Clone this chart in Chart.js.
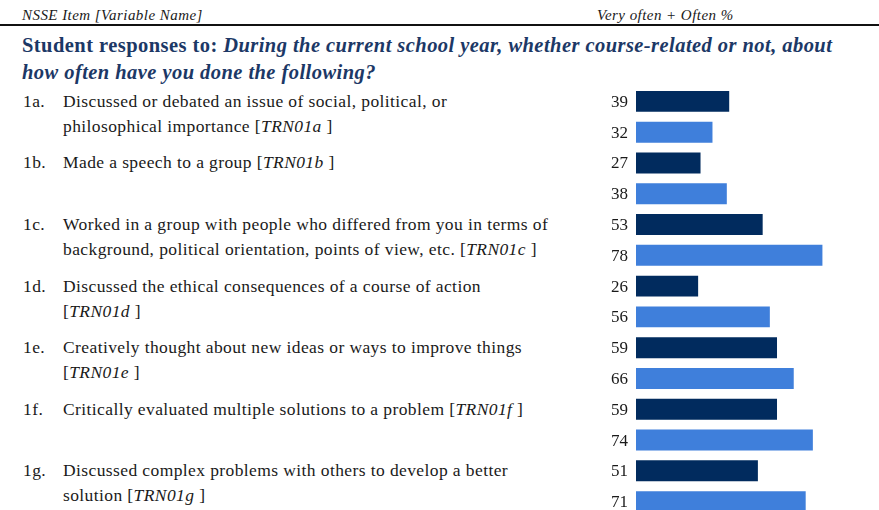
<!DOCTYPE html>
<html>
<head>
<meta charset="utf-8">
<script src="https://cdn.jsdelivr.net/npm/chart.js@4.4.1/dist/chart.umd.min.js"></script>
<style>
  html, body { margin: 0; padding: 0; background: #fff; overflow: hidden; }
  body { width: 879px; height: 510px; position: relative; font-family: 'Liberation Serif', 'Times New Roman', serif; color: #1a1a1a; }
  .hdr { position: absolute; top: 6px; font-size: 15px; font-style: italic; line-height: 18px; letter-spacing: 0.45px; }
  .rule { position: absolute; left: 0; top: 24px; width: 879px; height: 2px; background: #111; }
  .title { position: absolute; left: 22px; top: 32px; font-size: 20.5px; font-weight: bold; line-height: 27px; color: #1c3866; letter-spacing: 0.44px; }
  .item { position: absolute; font-size: 17.5px; line-height: 25px; letter-spacing: 0.4px; }
  .item .code { position: absolute; left: 23px; }
  .item .desc { position: absolute; left: 63px; white-space: nowrap; }
  #wrap { position: absolute; left: 590px; top: 86px; width: 289px; height: 431px; }
</style>
</head>
<body>
<div class="hdr" style="left:22px">NSSE Item [Variable Name]</div>
<div class="hdr" style="left:597px">Very often + Often %</div>
<div class="rule"></div>
<div class="title">Student responses to: <i>During the current school year, whether course-related or not, about<br>how often have you done the following?</i></div>
<div id="items"></div>
<div id="wrap"><canvas id="chart"></canvas></div>
<script>
const itemCodes = ['1a.', '1b.', '1c.', '1d.', '1e.', '1f.', '1g.'];
const itemLines = [
  ['Discussed or debated an issue of social, political, or', 'philosophical importance [<i>TRN01a</i> ]'],
  ['Made a speech to a group [<i>TRN01b</i> ]'],
  ['Worked in a group with people who differed from you in terms of', 'background, political orientation, points of view, etc. [<i>TRN01c</i> ]'],
  ['Discussed the ethical consequences of a course of action', '[<i>TRN01d</i> ]'],
  ['Creatively thought about new ideas or ways to improve things', '[<i>TRN01e</i> ]'],
  ['Critically evaluated multiple solutions to a problem [<i>TRN01f</i> ]'],
  ['Discussed complex problems with others to develop a better', 'solution [<i>TRN01g</i> ]']
];
const darkValues = [39, 27, 53, 26, 59, 59, 51];
const lightValues = [32, 38, 78, 56, 66, 74, 71];

const DARK = '#012b5e';
const LIGHT = '#3f7fdb';

// numbers to the left of each bar
const valueLabels = {
  id: 'valueLabels',
  afterDatasetsDraw(chart) {
    const { ctx, chartArea } = chart;
    ctx.save();
    ctx.font = '17px "Liberation Serif", serif';
    ctx.fillStyle = '#1a1a1a';
    ctx.textAlign = 'right';
    ctx.textBaseline = 'middle';
    chart.data.datasets.forEach((ds, di) => {
      chart.getDatasetMeta(di).data.forEach((bar, i) => {
        ctx.fillText(String(ds.data[i]), chartArea.left - 8, bar.y + 1);
      });
    });
    ctx.restore();
  }
};

const chart = new Chart(document.getElementById('chart'), {
  type: 'bar',
  data: {
    labels: itemCodes,
    datasets: [
      { label: 'Dark', data: darkValues, backgroundColor: DARK },
      { label: 'Light', data: lightValues, backgroundColor: LIGHT },
    ],
  },
  options: {
    indexAxis: 'y',
    responsive: true,
    maintainAspectRatio: false,
    animation: false,
    events: [],
    layout: { padding: { left: 46, right: 4, top: 0, bottom: 0 } },
    datasets: { bar: { categoryPercentage: 1, barPercentage: 0.68 } },
    plugins: { legend: { display: false }, tooltip: { enabled: false } },
    scales: {
      x: { min: 0, max: 100, display: false },
      y: { display: false },
    },
  },
  plugins: [valueLabels],
});

// place item text on the first bar of each category
const wrapTop = 86;
const firstBars = chart.getDatasetMeta(0).data;
const itemsEl = document.getElementById('items');
itemCodes.forEach((code, i) => {
  const div = document.createElement('div');
  div.className = 'item';
  div.style.top = (wrapTop + firstBars[i].y - 12.5) + 'px';
  let html = `<span class="code">${code}</span>`;
  itemLines[i].forEach((line, j) => {
    html += `<span class="desc" style="top:${j * 25}px">${line}</span>`;
  });
  div.innerHTML = html;
  itemsEl.appendChild(div);
});
</script>
</body>
</html>
